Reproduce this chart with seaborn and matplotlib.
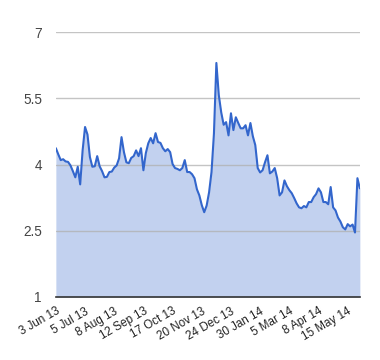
import numpy as np
import pandas as pd
import matplotlib
matplotlib.use("Agg")
import matplotlib.pyplot as plt
import seaborn as sns

# values (roughly every 2nd trading day)
prices = [4.37, 4.23, 4.10, 4.12, 4.07, 4.06, 3.98, 3.85, 3.71, 3.95,
          3.55, 4.32, 4.85, 4.68, 4.17, 3.95, 3.96, 4.19, 3.96, 3.85,
          3.71, 3.72, 3.83, 3.84, 3.93, 3.98, 4.14, 4.62, 4.28, 4.05,
          4.03, 4.15, 4.19, 4.32, 4.19, 4.37, 3.87, 4.26, 4.48, 4.60,
          4.48, 4.71, 4.51, 4.49, 4.37, 4.30, 4.35, 4.28, 4.01, 3.92,
          3.90, 3.87, 3.92, 4.10, 3.83, 3.83, 3.78, 3.69, 3.44, 3.30,
          3.08, 2.92, 3.07, 3.37, 3.83, 4.70, 6.30, 5.57, 5.18, 4.90,
          4.96, 4.66, 5.16, 4.78, 5.07, 4.94, 4.82, 4.82, 4.89, 4.66,
          4.94, 4.64, 4.44, 3.92, 3.82, 3.87, 4.05, 4.21, 3.80, 3.84,
          3.92, 3.69, 3.30, 3.37, 3.64, 3.51, 3.42, 3.35, 3.24, 3.12,
          3.03, 3.01, 3.06, 3.03, 3.15, 3.15, 3.26, 3.33, 3.46, 3.37,
          3.15, 3.15, 3.10, 3.49, 3.03, 2.96, 2.80, 2.71, 2.58, 2.53,
          2.65, 2.60, 2.64, 2.46, 3.69, 3.46]

date_labels = ["3 Jun 13", "5 Jul 13", "8 Aug 13", "12 Sep 13", "17 Oct 13",
               "20 Nov 13", "24 Dec 13", "30 Jan 14", "5 Mar 14", "8 Apr 14",
               "15 May 14"]
label_step = 12
y_ticks = [1, 2.5, 4, 5.5, 7]

df = pd.DataFrame({"idx": np.arange(len(prices)), "price": prices})

sns.set_style("white")
plt.rcParams["font.family"] = ["Liberation Sans", "DejaVu Sans"]

fig = plt.figure(figsize=(3.8, 3.6), dpi=100)
ax = fig.add_axes([0.147, 0.175, 0.8, 0.736])

# fill first, then gridlines on top of it, then the line
ax.fill_between(df["idx"], 1, df["price"], color="#c2d1ef", lw=0, zorder=1)
for yv in y_ticks[1:]:
    ax.axhline(yv, color="#b0b0b0", lw=1, zorder=1.5, alpha=0.75)
sns.lineplot(data=df, x="idx", y="price", ax=ax, color="#3366cc", lw=1.5, zorder=3)

ax.set_xlim(0, len(prices) - 1)
ax.set_ylim(1, 7)
ax.set_yticks(y_ticks)
ax.set_yticklabels(["1", "2.5", "4", "5.5", "7"], fontsize=9.8, color="#444444")
ax.set_xticks(np.arange(len(date_labels)) * label_step)
ax.set_xticklabels(date_labels, rotation=30, ha="right", rotation_mode="anchor",
                   fontsize=8.4, color="#222222")
ax.tick_params(axis="y", length=0, pad=10)
ax.tick_params(axis="x", length=0, pad=6)

for s in ["top", "right", "left"]:
    ax.spines[s].set_visible(False)
ax.spines["bottom"].set_color("#333333")
ax.spines["bottom"].set_linewidth(1.2)
ax.spines["bottom"].set_zorder(4)
ax.set_xlabel("")
ax.set_ylabel("")

fig.savefig("out.png", dpi=100)
